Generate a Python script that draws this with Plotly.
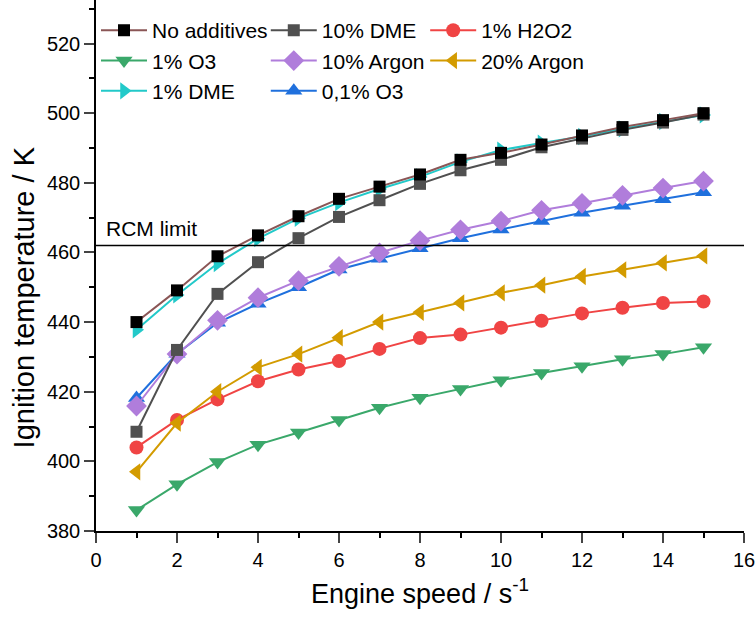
import plotly.graph_objects as go

speed = list(range(1, 16))

no_additives = [440.0, 449.1, 458.9, 464.9, 470.4, 475.4, 478.9, 482.4, 486.6, 488.6, 491.0, 493.6, 496.0, 498.0, 500.0]
dme_10 = [408.5, 432.0, 448.1, 457.2, 464.1, 470.2, 475.0, 479.7, 483.6, 486.6, 490.2, 492.7, 495.2, 497.3, 499.6]
h2o2_1 = [404.0, 411.9, 417.8, 423.0, 426.4, 428.8, 432.3, 435.4, 436.4, 438.4, 440.4, 442.5, 444.1, 445.5, 445.9]
o3_1 = [386.0, 393.4, 399.8, 404.8, 408.3, 411.9, 415.4, 418.3, 420.8, 423.3, 425.4, 427.3, 429.3, 430.8, 432.8]
argon_10 = [415.9, 430.8, 440.5, 447.0, 451.9, 456.0, 459.9, 463.4, 466.5, 469.0, 472.1, 474.1, 476.4, 478.5, 480.5]
argon_20 = [397.0, 411.0, 420.0, 427.0, 430.8, 435.5, 440.0, 442.8, 445.5, 448.4, 450.6, 453.1, 455.0, 457.0, 459.0]
dme_1 = [437.8, 447.8, 456.8, 464.0, 469.8, 474.3, 478.2, 481.7, 486.0, 489.4, 491.4, 493.3, 495.5, 497.6, 499.5]
o3_01 = [418.2, 430.9, 439.8, 445.3, 450.0, 455.1, 458.2, 461.2, 464.1, 466.6, 469.0, 471.4, 473.4, 475.3, 477.3]

rcm_limit = 462.0
x_ticks = list(range(0, 17, 2))
y_ticks = list(range(380, 521, 20))

FONT = "Liberation Sans, Arial, sans-serif"

# (name, values, line color, marker color, symbol, size, legend, rank)
series = [
    ("1% O3", o3_1, "#3aa86a", "#3aa86a", "triangle-down", 15, "legend", 4),
    ("1% H2O2", h2o2_1, "#f04444", "#f04444", "circle", 14, "legend3", 3),
    ("20% Argon", argon_20, "#d39b00", "#d39b00", "triangle-left", 15, "legend3", 6),
    ("0,1% O3", o3_01, "#1f70dd", "#1f70dd", "triangle-up", 15, "legend2", 8),
    ("10% Argon", argon_10, "#b07ddb", "#b07ddb", "diamond", 16, "legend2", 5),
    ("1% DME", dme_1, "#22c9c9", "#22c9c9", "triangle-right", 15, "legend", 7),
    ("10% DME", dme_10, "#505050", "#505050", "square", 12, "legend2", 2),
    ("No additives", no_additives, "#8a5656", "#000000", "square", 12, "legend", 1),
]

fig = go.Figure()
for name, vals, lc, mc, sym, sz, leg, rank in series:
    fig.add_trace(go.Scatter(
        x=speed, y=vals, mode="lines+markers", name=name,
        line=dict(color=lc, width=2),
        marker=dict(symbol=sym, size=sz, color=mc, line=dict(width=0)),
        legend=leg, legendrank=rank,
    ))

fig.add_shape(type="line", xref="paper", x0=0, x1=1, yref="y", y0=rcm_limit, y1=rcm_limit,
              line=dict(color="black", width=1.5))
fig.add_annotation(x=0.2, y=rcm_limit, xref="x", yref="y", text="RCM limit",
                   showarrow=False, xanchor="left", yanchor="bottom", yshift=3,
                   font=dict(family=FONT, size=21, color="black"))
fig.add_annotation(x=-0.111, y=0.44, xref="paper", yref="paper", text="Ignition temperature / K",
                   showarrow=False, xanchor="center", yanchor="middle", textangle=-90,
                   font=dict(family=FONT, size=29, color="black"))

legend_common = dict(orientation="v", yanchor="top", xanchor="left",
                     bgcolor="rgba(0,0,0,0)", borderwidth=0, itemwidth=46,
                     font=dict(family=FONT, size=21, color="black"),
                     tracegroupgap=0, traceorder="normal")

fig.update_layout(
    width=756, height=617,
    margin=dict(l=96, r=12, t=0, b=86),
    plot_bgcolor="white", paper_bgcolor="white",
    font=dict(family=FONT, size=20, color="black"),
    showlegend=True,
    legend=dict(x=0.0, y=0.981, **legend_common),
    legend2=dict(x=0.262, y=0.981, **legend_common),
    legend3=dict(x=0.508, y=0.981, **legend_common),
    xaxis=dict(range=[0, 16], tickvals=x_ticks, ticks="outside", ticklen=10, tickwidth=1.5,
               showline=True, linecolor="black", linewidth=1.5, showgrid=False, zeroline=False,
               minor=dict(dtick=1, ticks="outside", ticklen=5, tickwidth=1.5, tickcolor="black"),
               tickfont=dict(family=FONT, size=20),
               title=dict(text="Engine speed / s<sup>-1</sup>", font=dict(family=FONT, size=27), standoff=14)),
    yaxis=dict(range=[380, 532.5], tickvals=y_ticks, ticks="outside", ticklen=10, tickwidth=1.5,
               showline=True, linecolor="black", linewidth=1.5, showgrid=False, zeroline=False,
               minor=dict(dtick=10, ticks="outside", ticklen=5, tickwidth=1.5, tickcolor="black"),
               tickfont=dict(family=FONT, size=20)),
)

fig.write_html("out.html")
